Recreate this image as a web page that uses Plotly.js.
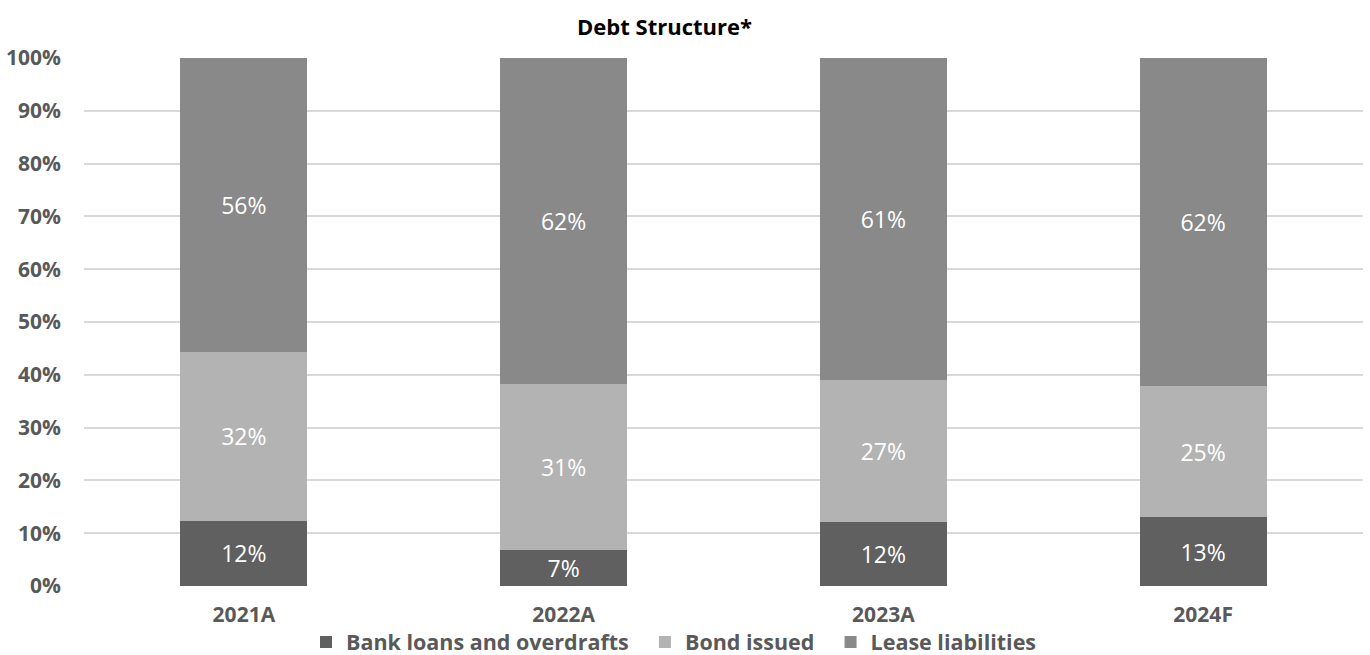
<!DOCTYPE html>
<html>
<head>
<meta charset="utf-8">
<script src="https://cdn.plot.ly/plotly-3.0.1.min.js"></script>
<style>html,body{margin:0;padding:0;background:#fff;}#chart{width:1370px;height:655px;}</style>
</head>
<body>
<div id="chart"></div>
<script>
const categories = ['2021A', '2022A', '2023A', '2024F'];
const bankLoans = [12.4, 6.8, 12.2, 13.0];
const bondIssued = [32.0, 31.4, 26.8, 24.8];
const leaseLiabilities = [55.6, 61.8, 61.0, 62.2];
const seriesNames = ['Bank loans and overdrafts', 'Bond issued', 'Lease liabilities'];
const yTickVals = [0, 10, 20, 30, 40, 50, 60, 70, 80, 90, 100];
const yTickText = ['0%', '10%', '20%', '30%', '40%', '50%', '60%', '70%', '80%', '90%', '100%'];

const FONT = '"Open Sans", sans-serif';
const PAD = '\u00a0\u00a0';

function series(name, vals, color, pad) {
  return {
    type: 'bar', name: '<b>' + name + '</b>' + pad, x: categories, y: vals,
    marker: {color: color, line: {width: 0}},
    texttemplate: '%{y:.0f}%', textposition: 'inside', insidetextanchor: 'middle',
    textfont: {color: '#ffffff', size: 23, family: FONT},
    constraintext: 'none', hoverinfo: 'skip'
  };
}

const data = [
  series(seriesNames[0], bankLoans, '#606060', PAD),
  series(seriesNames[1], bondIssued, '#b3b3b3', PAD),
  series(seriesNames[2], leaseLiabilities, '#898989', '')
];

const layout = {
  width: 1370, height: 655,
  barmode: 'stack', bargap: 0.603,
  margin: {l: 84, r: 7, t: 58, b: 69},
  paper_bgcolor: '#ffffff', plot_bgcolor: '#ffffff',
  font: {family: FONT, color: '#595959'},
  title: {text: '<b>Debt Structure*</b>', x: 664.5 / 1370, xanchor: 'center', xref: 'container',
          y: 1 - 27 / 655, yanchor: 'middle', yref: 'container',
          font: {size: 22, color: '#000000', family: FONT}},
  xaxis: {type: 'category', showgrid: false, zeroline: false, showline: false, ticks: '',
          tickfont: {size: 21, color: '#595959', family: FONT}, ticklabelstandoff: 14,
          tickprefix: '<b>', ticksuffix: '</b>'},
  yaxis: {range: [0, 100], tickvals: yTickVals, ticktext: yTickText.map(t => '<b>' + t + '</b>'),
          showgrid: true, gridcolor: '#d9d9d9', gridwidth: 2, zeroline: false, showline: false,
          ticks: '', tickfont: {size: 21, color: '#595959', family: FONT}, ticklabelstandoff: 22},
  showlegend: true,
  legend: {orientation: 'h', x: 674 / 1370, xanchor: 'center', xref: 'container',
           y: 13 / 655, yanchor: 'middle', yref: 'container',
           font: {size: 21.5, color: '#595959', family: FONT}, traceorder: 'normal',
           itemwidth: 30, tracegroupgap: 0}
};

Plotly.newPlot('chart', data, layout, {displayModeBar: false, staticPlot: true});
</script>
</body>
</html>
